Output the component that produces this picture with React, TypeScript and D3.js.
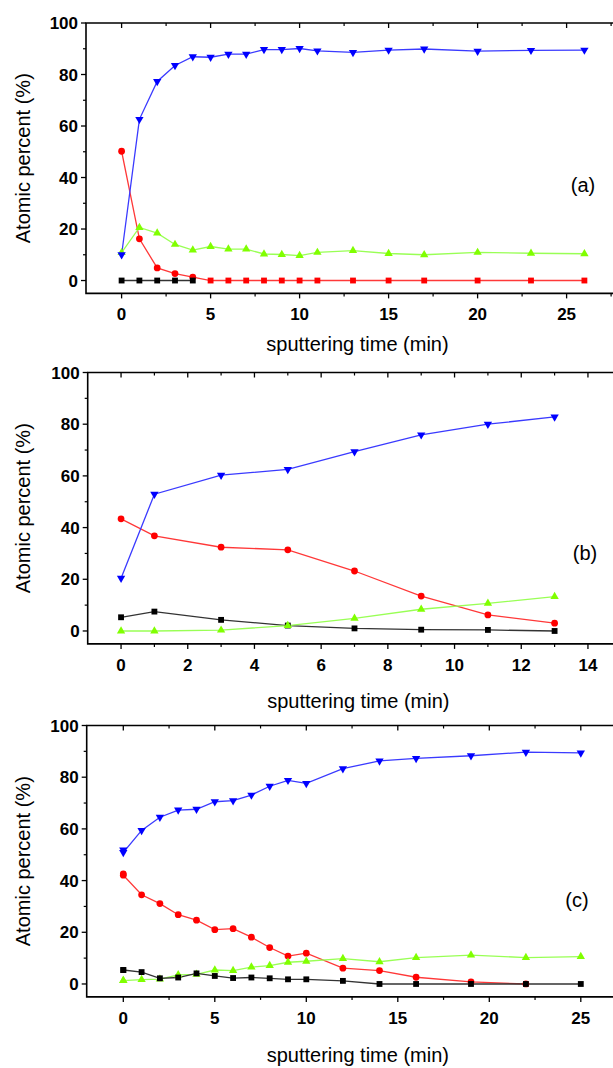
import React, { useEffect, useRef } from 'react';
import * as d3 from 'd3';

// panel (a)
const timeA = [0, 1, 2, 3, 4, 5, 6, 7, 8, 9, 10, 11, 13, 15, 17, 20, 23, 26];
const blueA = [10, 62.6, 77.3, 83.5, 86.9, 86.7, 87.9, 87.9, 89.7, 89.7, 90.1, 89.2, 88.6, 89.5, 89.9, 89.1, 89.4, 89.5];
const greenA = [10.8, 20.6, 18.4, 14, 11.8, 13.2, 12.2, 12.2, 10.3, 10.1, 9.7, 10.9, 11.6, 10.5, 10, 10.9, 10.6, 10.4];
const redA = [50.2, 16.2, 4.9, 2.7, 1.3, 0, 0, 0, 0, 0, 0, 0, 0, 0, 0, 0, 0, 0];
const blackA = [0, 0, 0, 0, 0];

// panel (b)
const timeB = [0, 1, 3, 5, 7, 9, 11, 13];
const blueB = [20.4, 52.9, 60.3, 62.5, 69.4, 75.9, 80, 82.8];
const redB = [43.4, 36.8, 32.4, 31.4, 23.2, 13.5, 6.2, 3];
const blackB = [5.3, 7.5, 4.3, 2.1, 1, 0.5, 0.4, 0];
const greenB = [0, 0, 0.3, 2.1, 4.9, 8.4, 10.7, 13.3];

// panel (c)
const timeC = [0, 0, 1, 2, 3, 4, 5, 6, 7, 8, 9, 10, 12, 14, 16, 19, 22, 25];
const blueC = [51.9, 50.9, 59.4, 64.5, 67.3, 67.6, 70.5, 70.9, 73.1, 76.5, 78.8, 77.6, 83.3, 86.3, 87.3, 88.3, 89.7, 89.4];
const redC = [42.6, 42.1, 34.5, 31.1, 26.8, 24.7, 21, 21.4, 18.1, 14.1, 10.8, 11.9, 6.1, 5.2, 2.6, 0.8, 0];
const blackC = [5.4, 5.4, 4.6, 2.2, 2.5, 4.1, 3.1, 2.3, 2.5, 2.2, 1.8, 1.8, 1.2, 0, 0, 0, 0, 0];
const greenC = [1.3, 1.3, 1.7, 1.9, 3.5, 3.7, 5.4, 5.2, 6.5, 7.1, 8.4, 8.8, 9.8, 8.6, 10.2, 11.2, 10.2, 10.6];

const yTicks = [0, 20, 40, 60, 80, 100];
const yMinor = [10, 30, 50, 70, 90];
const xTicksA = [0, 5, 10, 15, 20, 25];
const xTicksB = [0, 2, 4, 6, 8, 10, 12, 14];
const xTicksC = [0, 5, 10, 15, 20, 25];

const yLabel = 'Atomic percent (%)';
const xLabel = 'sputtering time (min)';

const panels = [
  {
    tag: '(a)', time: timeA, xDomain: [-2, 30], xRange: [86, 655.6], yRange: [293.4, 23],
    xTicks: xTicksA, minorStep: 2.5, tagPos: [583, 192], titleY: 351,
    series: [
      { v: redA, color: '#ff0000', line: '#ff3838', shape: 'circle', squareFrom: 5 },
      { v: blackA, color: '#000000', line: '#333333', shape: 'square' },
      { v: greenA, color: '#80ff00', line: '#99ff55', shape: 'up' },
      { v: blueA, color: '#0000ff', line: '#3a3aff', shape: 'down' },
    ],
  },
  {
    tag: '(b)', time: timeB, xDomain: [-1, 15], xRange: [87.7, 621.3], yRange: [643.9, 372.5],
    xTicks: xTicksB, minorStep: 1, tagPos: [585, 560], titleY: 708,
    series: [
      { v: redB, color: '#ff0000', line: '#ff3838', shape: 'circle' },
      { v: blackB, color: '#000000', line: '#333333', shape: 'square' },
      { v: greenB, color: '#80ff00', line: '#99ff55', shape: 'up' },
      { v: blueB, color: '#0000ff', line: '#3a3aff', shape: 'down' },
    ],
  },
  {
    tag: '(c)', time: timeC, xDomain: [-2, 30], xRange: [86.7, 672.3], yRange: [996.9, 725.5],
    xTicks: xTicksC, minorStep: 2.5, tagPos: [577, 907], titleY: 1062,
    series: [
      { v: redC, color: '#ff0000', line: '#ff3838', shape: 'circle' },
      { v: greenC, color: '#80ff00', line: '#99ff55', shape: 'up' },
      { v: blackC, color: '#000000', line: '#333333', shape: 'square' },
      { v: blueC, color: '#0000ff', line: '#3a3aff', shape: 'down' },
    ],
  },
];

function drawPanel(svg, p) {
  const x = d3.scaleLinear().domain(p.xDomain).range(p.xRange);
  const y = d3.scaleLinear().domain([-5, 100]).range(p.yRange);
  const g = svg.append('g');
  const [x0, x1] = p.xRange;
  const [yb, yt] = p.yRange;

  // frame
  g.append('path')
    .attr('d', `M${x1},${yt}H${x0}V${yb}H${x1}`)
    .attr('fill', 'none').attr('stroke', '#000').attr('stroke-width', 1.6);

  // y ticks (outward)
  yTicks.forEach(t => {
    g.append('line').attr('x1', x0 - 5).attr('x2', x0).attr('y1', y(t)).attr('y2', y(t))
      .attr('stroke', '#000').attr('stroke-width', 1.3);
    g.append('text').attr('x', x0 - 8).attr('y', y(t)).attr('dy', '0.36em')
      .attr('text-anchor', 'end')
      .style('font-family', 'Liberation Sans, Arial, sans-serif')
      .style('font-weight', 'bold').style('font-size', '17px')
      .text(t);
  });
  yMinor.forEach(t => {
    g.append('line').attr('x1', x0 - 3).attr('x2', x0).attr('y1', y(t)).attr('y2', y(t))
      .attr('stroke', '#000').attr('stroke-width', 1.2);
  });

  // x ticks: bottom outward, top inward
  const minor = d3.range(0, p.xDomain[1] + 0.01, p.minorStep)
    .filter(t => !p.xTicks.includes(t));
  p.xTicks.forEach(t => {
    g.append('line').attr('x1', x(t)).attr('x2', x(t)).attr('y1', yb).attr('y2', yb + 5)
      .attr('stroke', '#000').attr('stroke-width', 1.3);
    g.append('line').attr('x1', x(t)).attr('x2', x(t)).attr('y1', yt).attr('y2', yt + 5)
      .attr('stroke', '#000').attr('stroke-width', 1.3);
    g.append('text').attr('x', x(t)).attr('y', yb + 27)
      .attr('text-anchor', 'middle')
      .style('font-family', 'Liberation Sans, Arial, sans-serif')
      .style('font-weight', 'bold').style('font-size', '17px')
      .text(t);
  });
  minor.forEach(t => {
    g.append('line').attr('x1', x(t)).attr('x2', x(t)).attr('y1', yb).attr('y2', yb + 3)
      .attr('stroke', '#000').attr('stroke-width', 1.2);
    g.append('line').attr('x1', x(t)).attr('x2', x(t)).attr('y1', yt).attr('y2', yt + 3)
      .attr('stroke', '#000').attr('stroke-width', 1.2);
  });

  // titles
  g.append('text').attr('x', (x0 + 613) / 2 + 8).attr('y', p.titleY)
    .attr('text-anchor', 'middle')
    .style('font-family', 'Liberation Sans, Arial, sans-serif').style('font-size', '20px')
    .text(xLabel);
  g.append('text')
    .attr('transform', `translate(30,${(yt + yb) / 2}) rotate(-90)`)
    .attr('text-anchor', 'middle')
    .style('font-family', 'Liberation Sans, Arial, sans-serif').style('font-size', '20px')
    .text(yLabel);
  g.append('text').attr('x', p.tagPos[0]).attr('y', p.tagPos[1])
    .attr('text-anchor', 'middle')
    .style('font-family', 'Liberation Sans, Arial, sans-serif').style('font-size', '20px')
    .text(p.tag);

  const line = d3.line().x(d => x(d[0])).y(d => y(d[1]));

  p.series.forEach(s => {
    const pts = s.v.map((v, i) => [p.time[i], v]);
    g.append('path').attr('d', line(pts))
      .attr('fill', 'none').attr('stroke', s.line).attr('stroke-width', 1.3);
  });

  p.series.forEach(s => {
    const pts = s.v.map((v, i) => [p.time[i], v]);
    pts.forEach((d, i) => {
      let shape = s.shape;
      if (s.squareFrom !== undefined && i >= s.squareFrom) shape = 'square';
      let sym, rot = 0, dy = 0;
      if (shape === 'circle') sym = d3.symbol(d3.symbolCircle, 36);
      else if (shape === 'square') sym = d3.symbol(d3.symbolSquare, 34);
      else if (shape === 'up') { sym = d3.symbol(d3.symbolTriangle, 30); }
      else { sym = d3.symbol(d3.symbolTriangle, 30); rot = 180; }
      g.append('path')
        .attr('d', sym())
        .attr('transform', `translate(${x(d[0])},${y(d[1]) + dy}) rotate(${rot})`)
        .attr('fill', s.color);
    });
  });
}

export default function App() {
  const ref = useRef(null);

  useEffect(() => {
    const svg = d3.select(ref.current);
    svg.selectAll('*').remove();
    svg.append('rect').attr('width', 613).attr('height', 1068).attr('fill', '#fff');
    panels.forEach(p => drawPanel(svg, p));
  }, []);

  return (
    <svg ref={ref} width={613} height={1068}
      style={{ position: 'absolute', left: 0, top: 0, background: '#fff' }} />
  );
}
